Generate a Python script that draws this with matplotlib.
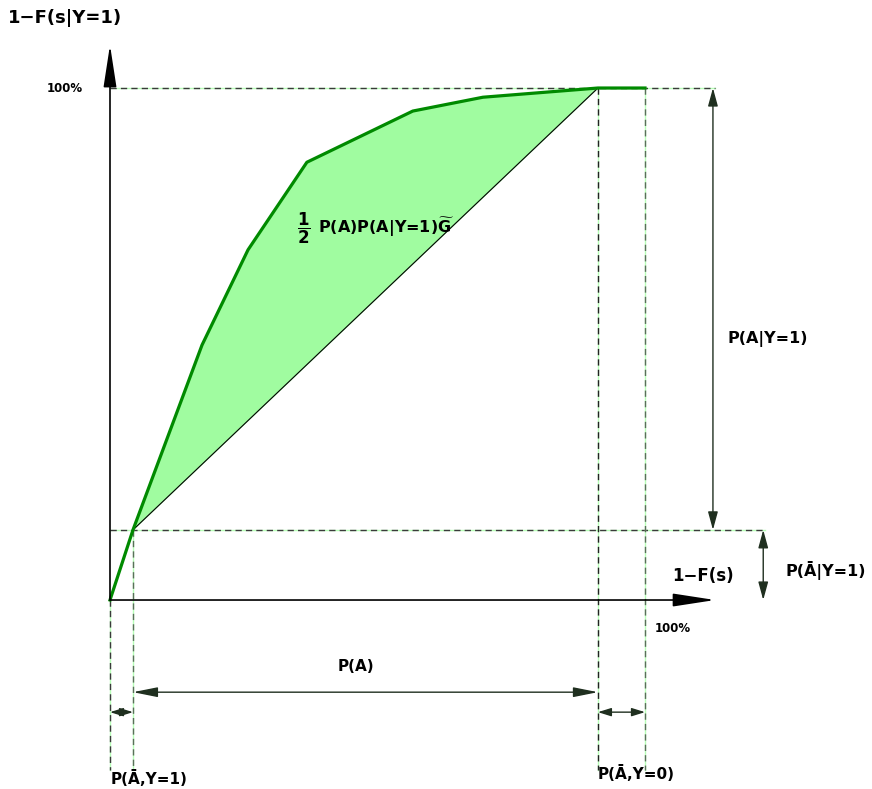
import numpy as np
import matplotlib.pyplot as plt

plt.rcParams['font.family'] = ['DejaVu Sans']
plt.rcParams['mathtext.fontset'] = 'dejavusans'
plt.rcParams['mathtext.default'] = 'bf'

# curve points (x = 1-F(s), y = 1-F(s|Y=1)), in percent
curve_x = [0, 4.3, 17.2, 25.8, 36.8, 56.6, 69.7, 91.2, 100]
curve_y = [0, 13.7, 49.8, 68.4, 85.5, 95.5, 98.2, 100, 100]

# key positions
p_abar_y1 = 4.3      # x where the chord starts
p_a_end = 91.2       # x where the curve reaches 100%
y_low = 13.7         # y at the start of the chord

fig = plt.figure(figsize=(8.72, 7.89), dpi=100)
ax = fig.add_axes([0, 0, 1, 1])
ax.set_xlim(-20.56, 142.43)
ax.set_ylim(-36.91, 117.19)
ax.axis('off')

green_fill = '#a0fca0'
green_line = '#008a00'
dash_col = '#3a3a3a'
arrow_col = '#1f2f1f'

# shaded area between curve and chord
cx = np.array(curve_x[1:8])
cy = np.array(curve_y[1:8])
chord = y_low + (cx - p_abar_y1) * (100 - y_low) / (p_a_end - p_abar_y1)
ax.fill_between(cx, chord, cy, color=green_fill, lw=0, zorder=1)
ax.plot([p_abar_y1, p_a_end], [y_low, 100], color='black', lw=0.8, zorder=2)
ax.plot(curve_x, curve_y, color=green_line, lw=2.3, zorder=4, solid_joinstyle='round')


def dashed(xs, ys, col=dash_col):
    ax.plot(xs, ys, color='#b8ffb8', lw=1.0, zorder=3)
    ax.plot(xs, ys, color=col, lw=1.0, dashes=(4.5, 3), zorder=3)


# dashed guide lines
dashed([0, 113.1], [100, 100])
dashed([0, 122.4], [y_low, y_low])
dashed([0, 0], [0, -33.2])
dashed([p_abar_y1, p_abar_y1], [y_low, -33.2], '#5a6e5a')
dashed([p_a_end, p_a_end], [100, -33.2], '#222222')
dashed([100, 100], [100, -33.2], '#5a6e5a')

# axes with arrowheads
for end in [(0, 108.4), (113.1, 0)]:
    ax.annotate('', xy=end, xytext=(0, 0),
                arrowprops=dict(arrowstyle='-|>,head_length=1.3,head_width=0.2',
                                mutation_scale=20, color='black', lw=1.2,
                                shrinkA=0, shrinkB=0), zorder=5)


def dim_arrow(p0, p1, hl=1.1, hw=0.3, ms=10):
    ax.annotate('', xy=p1, xytext=p0,
                arrowprops=dict(arrowstyle='<|-|>,head_length=%s,head_width=%s' % (hl, hw),
                                mutation_scale=ms, color=arrow_col, lw=1.0,
                                shrinkA=0, shrinkB=0), zorder=5)


dim_arrow((112.7, 100), (112.7, y_low))
dim_arrow((122.1, y_low), (122.1, 0))
dim_arrow((p_abar_y1, -18.0), (p_a_end, -18.0), hl=1.5, hw=0.3)
dim_arrow((0, -21.9), (p_abar_y1, -21.9), hl=0.8, hw=0.25)
dim_arrow((p_a_end, -21.9), (100, -21.9), hl=0.8, hw=0.25)

# labels
bold = dict(fontweight='bold', color='black')
ax.text(-19.0, 113.7, '1\u2212F(s|Y=1)', fontsize=13, ha='left', va='center', **bold)
ax.text(-5.0, 100, '100%', fontsize=8.5, ha='right', va='center', **bold)
ax.text(105.0, 4.7, '1\u2212F(s)', fontsize=12, ha='left', va='center', **bold)
ax.text(101.9, -5.5, '100%', fontsize=8.5, ha='left', va='center', **bold)
ax.text(115.4, 51.0, 'P(A|Y=1)', fontsize=11.5, ha='left', va='center', **bold)
ax.text(126.2, 5.7, 'P(\u0100|Y=1)', fontsize=11.5, ha='left', va='center', **bold)
ax.text(45.9, -12.9, 'P(A)', fontsize=11, ha='center', va='center', **bold)
ax.text(0.2, -34.8, 'P(\u0100,Y=1)', fontsize=11, ha='left', va='center', **bold)
ax.text(91.2, -33.8, 'P(\u0100,Y=0)', fontsize=11, ha='left', va='center', **bold)
ax.text(35.0, 72.6, r'$\dfrac{1}{2}$', fontsize=12, ha='left', va='center', zorder=6, **bold)
ax.text(38.9, 72.8, r'P(A)P(A|Y=1)$\widetilde{G}$', fontsize=11.5,
        ha='left', va='center', zorder=6, **bold)

fig.savefig('out.png', dpi=100)
